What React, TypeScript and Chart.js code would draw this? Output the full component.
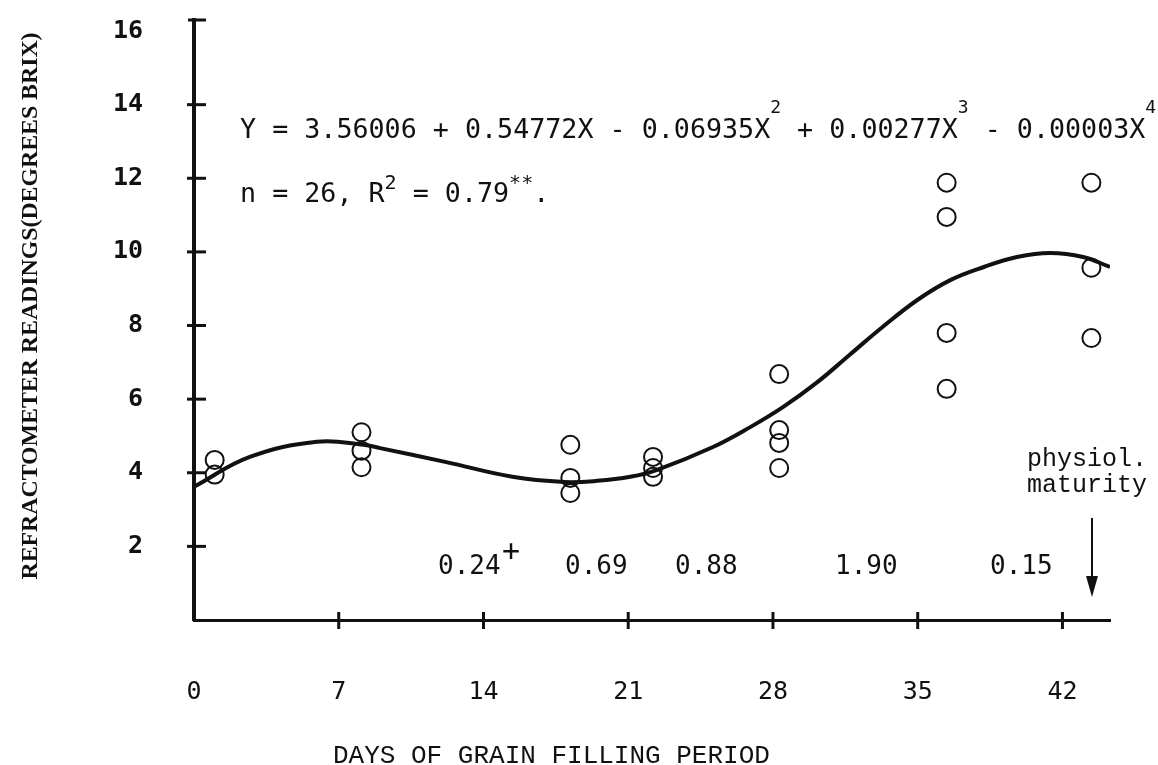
import React, { useEffect, useRef } from "react";
import { Chart, registerables } from "chart.js";

Chart.register(...registerables);

// ---- data ----
const xTickValues = [0, 7, 14, 21, 28, 35, 42];
const yTickValues = [2, 4, 6, 8, 10, 12, 14, 16];

const obsDays = [1, 1, 8.1, 8.1, 8.1, 18.2, 18.2, 18.2, 22.2, 22.2, 22.2, 28.3, 28.3, 28.3, 28.3, 36.4, 36.4, 36.4, 36.4, 43.4, 43.4, 43.4];
const obsBrix = [4.35, 3.95, 5.1, 4.6, 4.15, 4.76, 3.86, 3.45, 4.43, 4.13, 3.89, 6.68, 5.16, 4.81, 4.13, 11.88, 10.95, 7.8, 6.28, 11.88, 9.57, 7.66];

const fitDays = [0, 2.7, 5.95, 8.2, 9.0, 12.2, 15.4, 17.9, 19.5, 21.1, 22.4, 25.1, 26.9, 28.5, 30.1, 31.7, 33.3, 35.0, 36.6, 38.2, 39.8, 41.4, 43.0, 44.3];
const fitBrix = [3.62, 4.43, 4.84, 4.76, 4.67, 4.29, 3.89, 3.75, 3.78, 3.89, 4.08, 4.7, 5.24, 5.79, 6.44, 7.2, 7.96, 8.7, 9.24, 9.59, 9.86, 9.97, 9.86, 9.59];

const intervalLabels = ["0.24", "0.69", "0.88", "1.90", "0.15"];
const intervalX = [438, 565, 675, 835, 990];

const INK = "#111";

type Run = { t: string; sup?: boolean };

function drawRuns(ctx: CanvasRenderingContext2D, x: number, y: number, runs: Run[], font: string, supFont: string, raise: number) {
  let cx = x;
  for (const r of runs) {
    ctx.font = r.sup ? supFont : font;
    ctx.fillText(r.t, cx, r.sup ? y - raise : y);
    cx += ctx.measureText(r.t).width;
  }
}

const annotations = {
  id: "annotations",
  afterDraw(chart: any) {
    const ctx: CanvasRenderingContext2D = chart.ctx;
    const xs = chart.scales.x;
    const ys = chart.scales.y;
    const left = chart.chartArea.left;
    const bottom = chart.chartArea.bottom;
    ctx.save();
    ctx.strokeStyle = INK;
    ctx.fillStyle = INK;
    // y-axis cross ticks
    ctx.lineWidth = 3;
    for (const v of yTickValues) {
      if (v >= 16) continue;
      const py = ys.getPixelForValue(v);
      ctx.beginPath();
      ctx.moveTo(left - 7, py);
      ctx.lineTo(left + 12, py);
      ctx.stroke();
    }
    // cap at top of y axis
    ctx.beginPath();
    ctx.moveTo(left - 6, chart.chartArea.top);
    ctx.lineTo(left + 12, chart.chartArea.top);
    ctx.stroke();
    // x-axis cross ticks
    for (const v of xTickValues) {
      if (v === 0) continue;
      const px = xs.getPixelForValue(v);
      ctx.beginPath();
      ctx.moveTo(px, bottom - 8);
      ctx.lineTo(px, bottom + 9);
      ctx.stroke();
    }

    // equation
    ctx.textBaseline = "alphabetic";
    ctx.textAlign = "left";
    const mono = "26.7px 'DejaVu Sans Mono'";
    const monoSup = "18px 'DejaVu Sans Mono'";
    drawRuns(ctx, 240, 138, [
      { t: "Y = 3.56006 + 0.54772X - 0.06935X" },
      { t: "2", sup: true },
      { t: " + 0.00277X" },
      { t: "3", sup: true },
      { t: " - 0.00003X" },
      { t: "4", sup: true },
    ], mono, monoSup, 25);
    drawRuns(ctx, 240, 202, [
      { t: "n = 26, R" },
      { t: "2", sup: true },
      { t: " = 0.79" },
      { t: "**", sup: true },
      { t: "." },
    ], mono, "20px 'DejaVu Sans Mono'", 13);

    // interval values
    ctx.font = "26px 'DejaVu Sans Mono'";
    intervalLabels.forEach((t, i) => ctx.fillText(t, intervalX[i], 574));
    ctx.font = "30px 'DejaVu Sans Mono'";
    ctx.fillText("+", 502, 561);

    // physiological maturity
    ctx.font = "25px 'Liberation Mono'";
    ctx.fillText("physiol.", 1027, 466);
    ctx.fillText("maturity", 1027, 492);
    ctx.lineWidth = 2;
    ctx.beginPath();
    ctx.moveTo(1092, 518);
    ctx.lineTo(1092, 582);
    ctx.stroke();
    ctx.beginPath();
    ctx.moveTo(1086, 576);
    ctx.lineTo(1098, 576);
    ctx.lineTo(1092, 597);
    ctx.closePath();
    ctx.fill();

    // x-axis title
    ctx.font = "26px 'Liberation Mono'";
    ctx.fillText("DAYS OF GRAIN FILLING PERIOD", 333, 763);

    // y-axis title (rotated)
    const yTitle = "REFRACTOMETER READINGS(DEGREES BRIX)";
    ctx.font = "bold 23px 'Liberation Serif'";
    const w = ctx.measureText(yTitle).width;
    const target = 547;
    ctx.translate(31, 306);
    ctx.rotate(-Math.PI / 2);
    ctx.scale(target / w, 1);
    ctx.textAlign = "center";
    ctx.textBaseline = "middle";
    ctx.fillText(yTitle, 0, 0);
    ctx.restore();
  },
};

export default function App() {
  const ref = useRef<HTMLCanvasElement | null>(null);
  useEffect(() => {
    if (!ref.current) return;
    const chart = new Chart(ref.current, {
      type: "scatter",
      data: {
        datasets: [
          {
            type: "line",
            data: fitDays.map((d, i) => ({ x: d, y: fitBrix[i] })),
            borderColor: INK,
            borderWidth: 4,
            pointRadius: 0,
            tension: 0.4,
            fill: false,
          } as any,
          {
            type: "scatter",
            data: obsDays.map((d, i) => ({ x: d, y: obsBrix[i] })),
            pointRadius: 9,
            pointBorderWidth: 2,
            borderColor: INK,
            backgroundColor: "rgba(0,0,0,0)",
            pointStyle: "circle",
          },
        ],
      },
      options: {
        responsive: false,
        animation: false,
        layout: { autoPadding: false, padding: { left: 0, right: 48, top: 20, bottom: 0 } },
        plugins: { legend: { display: false }, tooltip: { enabled: false } },
        scales: {
          x: {
            type: "linear",
            min: 0,
            max: 44.3,
            afterBuildTicks: (s: any) => {
              s.ticks = xTickValues.map((v) => ({ value: v }));
            },
            afterFit: (s: any) => {
              s.height = 145;
              s.paddingLeft = 0;
              s.paddingRight = 0;
            },
            grid: { display: false, drawTicks: false },
            border: { display: true, width: 3, color: INK },
            ticks: {
              padding: 57,
              maxRotation: 0,
              autoSkip: false,
              color: INK,
              font: { family: "'DejaVu Sans Mono'", size: 25 },
              callback: (v: any) => String(v),
            },
          },
          y: {
            type: "linear",
            min: 0,
            max: 16.3,
            afterBuildTicks: (s: any) => {
              s.ticks = yTickValues.map((v) => ({ value: v }));
            },
            afterFit: (s: any) => {
              s.width = 194;
              s.paddingTop = 0;
              s.paddingBottom = 0;
            },
            grid: { display: false, drawTicks: false },
            border: { display: true, width: 4, color: INK },
            ticks: {
              padding: 51,
              autoSkip: false,
              color: INK,
              font: { family: "'DejaVu Sans Mono'", size: 25, weight: "bold" },
              callback: (v: any) => String(v),
            },
          },
        },
      },
      plugins: [annotations],
    });
    return () => chart.destroy();
  }, []);
  return (
    <div style={{ position: "fixed", left: 0, top: 0, width: 1158, height: 765, background: "#fff" }}>
      <canvas ref={ref} width={1158} height={765} style={{ display: "block" }} />
    </div>
  );
}
